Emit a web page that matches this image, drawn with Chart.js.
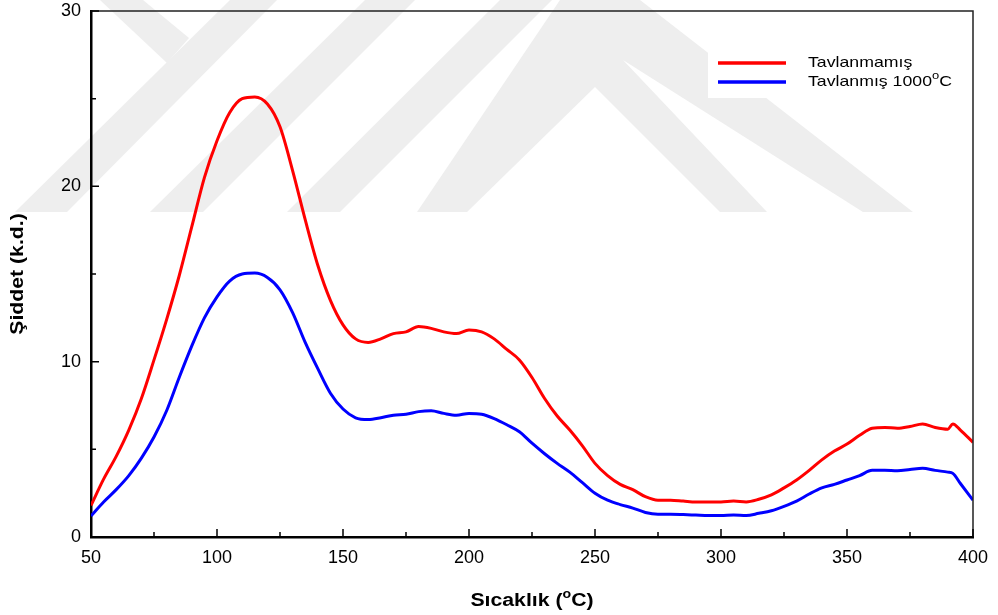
<!DOCTYPE html>
<html>
<head>
<meta charset="utf-8">
<script src="https://cdn.jsdelivr.net/npm/chart.js@4.4.1/dist/chart.umd.min.js"></script>
<style>
  html, body { margin: 0; padding: 0; background: #fff; }
  #kutu { width: 998px; height: 615px; }
</style>
</head>
<body>
<div id="kutu"><canvas id="grafik"></canvas></div>
<script>
// ---- veriler ----
const sicaklik = [
  50, 55, 60, 65, 70, 75, 80, 85, 90, 95,
  100, 105, 110, 115, 120, 125, 130, 135, 140, 145,
  150, 155, 160, 165, 170, 175, 180, 185, 190, 195,
  200, 205, 210, 215, 220, 225, 230, 235, 240, 245,
  250, 255, 260, 265, 270, 275, 280, 285, 290, 295,
  300, 305, 310, 315, 320, 325, 330, 335, 340, 345,
  350, 355, 360, 365, 370, 375, 380, 385, 390,
  392, 395, 400
];
const tavlanmamis = [
  1.8, 3.3, 4.6, 6.1, 7.9, 10.1, 12.4, 14.9, 17.7, 20.5,
  22.6, 24.2, 25.0, 25.1, 24.7, 23.4, 20.9, 18.1, 15.5, 13.5,
  12.1, 11.3, 11.1, 11.3, 11.6, 11.7, 12.0, 11.9, 11.7, 11.6,
  11.8, 11.7, 11.3, 10.7, 10.1, 9.1, 7.9, 6.9, 6.1, 5.2,
  4.2, 3.5, 3.0, 2.7, 2.3, 2.1, 2.1, 2.05, 2.0, 2.0,
  2.0, 2.05, 2.0, 2.15, 2.4, 2.8, 3.25, 3.8, 4.4, 4.9,
  5.3, 5.8, 6.2, 6.25, 6.2, 6.3, 6.45, 6.25, 6.15,
  6.45, 6.1, 5.4
];
const tavlanmis1000 = [
  1.2, 2.0, 2.7, 3.5, 4.5, 5.7, 7.2, 9.1, 10.9, 12.5,
  13.7, 14.6, 15.0, 15.05, 14.8, 14.1, 12.8, 11.1, 9.6, 8.2,
  7.3, 6.8, 6.7, 6.8, 6.95, 7.0, 7.15, 7.2, 7.05, 6.95,
  7.05, 7.0, 6.75, 6.4, 6.0, 5.35, 4.75, 4.2, 3.7, 3.1,
  2.5, 2.1, 1.85, 1.65, 1.4, 1.3, 1.3, 1.28, 1.25, 1.22,
  1.22, 1.25, 1.22, 1.35, 1.5, 1.75, 2.05, 2.45, 2.8, 3.0,
  3.25, 3.5, 3.8, 3.8, 3.78, 3.85, 3.92, 3.8, 3.7,
  3.63, 3.05, 2.1
];
const xEtiketler = [50, 100, 150, 200, 250, 300, 350, 400];
const xAraTikler = [75, 125, 175, 225, 275, 325, 375];
const yEtiketler = [0, 10, 20, 30];
const yAraTikler = [5, 15, 25];
const seriAdlari = ["Tavlanmamış", "Tavlanmış 1000"];

// ---- yardimci: yatayda biraz genis yazi + ust simge ----
const ESNEME = 1.18;
function yaziCiz(ctx, parcalar, x, y, hiza) {
  let toplam = 0;
  parcalar.forEach(p => { ctx.font = p.font; toplam += ctx.measureText(p.t).width; });
  ctx.save();
  ctx.translate(x, y);
  ctx.scale(ESNEME, 1);
  let bx = hiza === 'center' ? -toplam / 2 : 0;
  ctx.textBaseline = 'middle';
  ctx.textAlign = 'left';
  parcalar.forEach(p => {
    ctx.font = p.font;
    ctx.fillText(p.t, bx, p.ust ? -6 : 0);
    bx += ctx.measureText(p.t).width;
  });
  ctx.restore();
}

// ---- arka plan filigrani ----
const filigran = {
  id: 'filigran',
  beforeDraw(chart) {
    const ctx = chart.ctx;
    ctx.save();
    ctx.fillStyle = '#ffffff';
    ctx.fillRect(0, 0, chart.width, chart.height);
    ctx.fillStyle = '#eeeeee';
    const seritler = [
      [[100, 0], [143, 0], [189, 38], [167, 63]],
      [[15, 212], [67, 212], [277, 0], [230, 0]],
      [[150, 212], [203, 212], [415, 0], [365, 0]],
      [[287, 212], [340, 212], [552, 0], [500, 0]],
      [[417, 212], [467, 212], [595, 87], [720, 212], [767, 212], [623, 60],
       [863, 212], [913, 212], [640, 0], [560, 0]]
    ];
    seritler.forEach(s => {
      ctx.beginPath();
      ctx.moveTo(s[0][0], s[0][1]);
      for (let i = 1; i < s.length; i++) ctx.lineTo(s[i][0], s[i][1]);
      ctx.closePath();
      ctx.fill();
    });
    ctx.restore();
  }
};

// ---- cerceve, ic tikler, eksen basliklari, lejant ----
const susleme = {
  id: 'susleme',
  afterDraw(chart) {
    const ctx = chart.ctx;
    const a = chart.chartArea;
    const xs = chart.scales.x, ys = chart.scales.y;
    ctx.save();
    // ust ve sag cerceve
    ctx.strokeStyle = '#222';
    ctx.lineWidth = 1.5;
    ctx.beginPath();
    ctx.moveTo(a.left, a.top); ctx.lineTo(a.right, a.top); ctx.lineTo(a.right, a.bottom);
    ctx.stroke();
    // ic tikler
    ctx.strokeStyle = '#000';
    ctx.lineWidth = 1.5;
    ctx.beginPath();
    xEtiketler.forEach(v => { const p = xs.getPixelForValue(v); ctx.moveTo(p, a.bottom); ctx.lineTo(p, a.bottom - 8); });
    xAraTikler.forEach(v => { const p = xs.getPixelForValue(v); ctx.moveTo(p, a.bottom); ctx.lineTo(p, a.bottom - 5); });
    yEtiketler.forEach(v => { const p = ys.getPixelForValue(v); ctx.moveTo(a.left, p); ctx.lineTo(a.left + 8, p); });
    yAraTikler.forEach(v => { const p = ys.getPixelForValue(v); ctx.moveTo(a.left, p); ctx.lineTo(a.left + 5, p); });
    ctx.stroke();

    ctx.fillStyle = '#000';
    // x ekseni basligi
    yaziCiz(ctx, [
      { t: 'Sıcaklık (', font: 'bold 18px "Liberation Sans", Arial, sans-serif' },
      { t: 'o', font: 'bold 12px "Liberation Sans", Arial, sans-serif', ust: true },
      { t: 'C)', font: 'bold 18px "Liberation Sans", Arial, sans-serif' }
    ], (a.left + a.right) / 2, 601, 'center');
    // y ekseni basligi
    ctx.save();
    ctx.translate(18, (a.top + a.bottom) / 2);
    ctx.rotate(-Math.PI / 2);
    yaziCiz(ctx, [{ t: 'Şiddet (k.d.)', font: 'bold 18px "Liberation Sans", Arial, sans-serif' }], 0, 0, 'center');
    ctx.restore();

    // lejant
    ctx.fillStyle = '#ffffff';
    ctx.fillRect(708, 48, 262, 50);
    const renkler = chart.data.datasets.map(d => d.borderColor);
    const satirY = [63, 82];
    ctx.lineWidth = 3.5;
    satirY.forEach((y, i) => {
      ctx.strokeStyle = renkler[i];
      ctx.beginPath(); ctx.moveTo(718, y); ctx.lineTo(786, y); ctx.stroke();
    });
    ctx.fillStyle = '#000';
    yaziCiz(ctx, [{ t: seriAdlari[0], font: '15px "Liberation Sans", Arial, sans-serif' }], 808, satirY[0], 'left');
    yaziCiz(ctx, [
      { t: seriAdlari[1], font: '15px "Liberation Sans", Arial, sans-serif' },
      { t: 'o', font: '11px "Liberation Sans", Arial, sans-serif', ust: true },
      { t: 'C', font: '15px "Liberation Sans", Arial, sans-serif' }
    ], 808, satirY[1], 'left');
    ctx.restore();
  }
};

const noktalar = seri => sicaklik.map((t, i) => ({ x: t, y: seri[i] }));

new Chart(document.getElementById('grafik'), {
  type: 'line',
  data: {
    datasets: [
      { label: seriAdlari[0], data: noktalar(tavlanmamis), borderColor: '#ff0000', borderWidth: 3, pointRadius: 0, cubicInterpolationMode: 'monotone' },
      { label: seriAdlari[1], data: noktalar(tavlanmis1000), borderColor: '#0000ff', borderWidth: 3, pointRadius: 0, cubicInterpolationMode: 'monotone' }
    ]
  },
  options: {
    responsive: true,
    maintainAspectRatio: false,
    animation: false,
    layout: { padding: { left: 0, right: 25, top: 11, bottom: 0 } },
    plugins: { legend: { display: false }, tooltip: { enabled: false } },
    scales: {
      x: {
        type: 'linear', min: 50, max: 400,
        afterBuildTicks: s => { s.ticks = xEtiketler.map(v => ({ value: v })); },
        afterFit: s => { s.height = 78; s.paddingLeft = 0; s.paddingRight = 0; },
        grid: { display: false, drawTicks: false },
        border: { display: true, color: '#000', width: 2.5 },
        ticks: { color: '#000', padding: 10, maxRotation: 0, font: { family: '"Liberation Sans", Arial, sans-serif', size: 18 } }
      },
      y: {
        type: 'linear', min: 0, max: 30,
        afterBuildTicks: s => { s.ticks = yEtiketler.map(v => ({ value: v })); },
        afterFit: s => { s.width = 91; s.paddingTop = 0; s.paddingBottom = 0; },
        grid: { display: false, drawTicks: false },
        border: { display: true, color: '#000', width: 2.5 },
        ticks: { color: '#000', padding: 10, font: { family: '"Liberation Sans", Arial, sans-serif', size: 18 } }
      }
    }
  },
  plugins: [filigran, susleme]
});
</script>
</body>
</html>
